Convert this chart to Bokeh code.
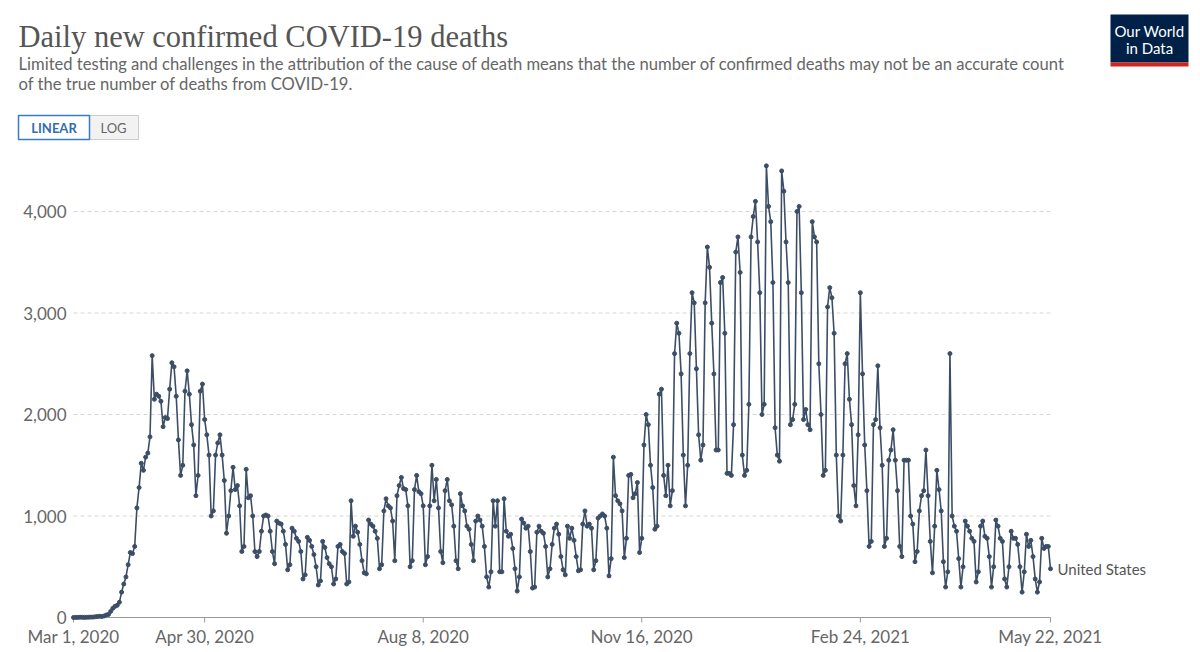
import datetime as dt
from bokeh.plotting import figure
from bokeh.models import Range1d, ColumnDataSource
from bokeh.core.properties import value
from bokeh.embed import file_html
from bokeh.resources import INLINE

start_date = dt.datetime(2020, 3, 1)
weeks = [
    [0, 1, 1, 3, 2, 1, 2],
    [3, 4, 4, 7, 10, 12, 10],
    [15, 25, 30, 60, 90, 110, 120],
    [150, 250, 330, 400, 520, 640, 630],
    [700, 1080, 1280, 1520, 1450, 1580, 1620],
    [1780, 2580, 2150, 2200, 2180, 2130, 1880],
    [1970, 1960, 2250, 2510, 2470, 2180, 1750],
    [1400, 1500, 2230, 2430, 2200, 1900, 1700],
    [1200, 1400, 2230, 2300, 1950, 1800, 1600],
    [1000, 1050, 1600, 1720, 1800, 1600, 1350],
    [830, 1000, 1250, 1480, 1260, 1300, 1100],
    [650, 700, 1460, 1180, 1200, 1000, 650],
    [600, 650, 850, 1000, 1010, 1000, 850],
    [650, 530, 950, 930, 920, 850, 720],
    [470, 520, 880, 850, 780, 750, 650],
    [380, 420, 790, 760, 700, 620, 500],
    [320, 360, 750, 690, 590, 530, 500],
    [330, 380, 700, 720, 650, 630, 330],
    [350, 1150, 800, 900, 840, 720, 560],
    [440, 430, 960, 920, 900, 850, 780],
    [480, 520, 1050, 1170, 1100, 1080, 950],
    [560, 1200, 1300, 1380, 1270, 1260, 1100],
    [500, 560, 1260, 1400, 1240, 1220, 1100],
    [520, 600, 1100, 1500, 1150, 1360, 1080],
    [650, 540, 1250, 1360, 1150, 1110, 900],
    [560, 480, 1220, 1100, 1050, 900, 870],
    [720, 560, 950, 1000, 960, 900, 700],
    [400, 300, 450, 1150, 900, 1150, 450],
    [450, 1170, 850, 800, 820, 680, 480],
    [260, 400, 970, 930, 880, 900, 650],
    [290, 300, 840, 900, 850, 830, 700],
    [400, 480, 720, 880, 920, 820, 600],
    [470, 420, 900, 780, 880, 760, 600],
    [460, 470, 920, 1050, 900, 920, 880],
    [470, 560, 980, 1000, 1020, 1000, 880],
    [410, 580, 1580, 1200, 1150, 1120, 1050],
    [590, 780, 1400, 1410, 1180, 1220, 1330],
    [640, 780, 1700, 2000, 1900, 1500, 1280],
    [870, 900, 2200, 2250, 1400, 1200, 1500],
    [1100, 1250, 2600, 2900, 2800, 2400, 1600],
    [1100, 1500, 2600, 3200, 3100, 2450, 1800],
    [1550, 1700, 3100, 3650, 3450, 2900, 2400],
    [1650, 1650, 3300, 3350, 2800, 1420, 1420],
    [1400, 1900, 3600, 3750, 3400, 1600, 1400],
    [1450, 2100, 3750, 3950, 4100, 3700, 3200],
    [2000, 2100, 4450, 4050, 3900, 3300, 1870],
    [1600, 1540, 4400, 4200, 3700, 3300, 1900],
    [1950, 2100, 4000, 4050, 3200, 1950, 2050],
    [1900, 1850, 3900, 3750, 3700, 2500, 2000],
    [1400, 1450, 3060, 3250, 3150, 2800, 1600],
    [1000, 950, 1600, 2500, 2600, 2150, 1900],
    [1300, 1100, 1800, 3200, 2400, 1700, 1250],
    [700, 750, 1900, 1950, 2480, 1870, 1500],
    [700, 780, 1550, 1650, 1850, 1550, 1250],
    [700, 600, 1550, 1550, 1550, 1000, 920],
    [550, 650, 1050, 1200, 1250, 1650, 1200],
    [750, 440, 900, 1450, 1260, 1050, 550],
    [300, 450, 2600, 1000, 900, 850, 580],
    [300, 500, 950, 900, 850, 780, 750],
    [350, 450, 900, 950, 800, 780, 600],
    [300, 500, 960, 900, 780, 750, 380],
    [300, 500, 850, 780, 780, 720, 500],
    [250, 450, 820, 700, 760, 600, 380],
    [250, 350, 780, 680, 700, 700, 480],
]
deaths = [v for w in weeks for v in w]
dates = [start_date + dt.timedelta(days=i) for i in range(len(deaths))]
tick_dates = [dt.datetime(2020, 3, 1), dt.datetime(2020, 4, 30), dt.datetime(2020, 8, 8),
              dt.datetime(2020, 11, 16), dt.datetime(2021, 2, 24), dt.datetime(2021, 5, 22)]
tick_labels = ["Mar 1, 2020", "Apr 30, 2020", "Aug 8, 2020", "Nov 16, 2020", "Feb 24, 2021", "May 22, 2021"]
y_ticks = [0, 1000, 2000, 3000, 4000]
y_labels = ["0", "1,000", "2,000", "3,000", "4,000"]
series_name = "United States"

def ms(d):
    return (d - dt.datetime(1970, 1, 1)).total_seconds() * 1000

T0 = ms(dates[0])
T1 = ms(dates[-1])
X0P, X1P = 73.0, 1050.0          # pixel of first / last date
Y0P, YPER = 617.0, 101.5 / 1000  # pixel of value 0, px per unit
def px2x(px):
    return T0 + (px - X0P) * (T1 - T0) / (X1P - X0P)
def px2y(py):
    return (Y0P - py) / YPER

W, H = 1200, 652
p = figure(width=W, height=H, output_backend="svg", toolbar_location=None,
           min_border=0, x_range=Range1d(px2x(0), px2x(W)),
           y_range=Range1d(px2y(H), px2y(0)))
p.axis.visible = False
p.grid.visible = False
p.outline_line_color = None

C = "#3c4e66"
GRAY = "#666666"
gy = y_ticks[1:]
p.segment(x0=[T0] * len(gy), x1=[T1] * len(gy), y0=gy, y1=gy, color="#d6d6d6",
          line_dash="4 3", line_width=1)
p.segment(x0=[T0], x1=[T1], y0=[0], y1=[0], color="#999999", line_width=1)
tx = [ms(d) for d in tick_dates]
p.segment(x0=tx, x1=tx, y0=[0] * len(tx), y1=[px2y(Y0P + 5)] * len(tx), color="#999999")
p.text(x=tx, y=[px2y(636)] * len(tx), text=tick_labels, text_font=value("Lato"),
       text_font_size="17px", text_color=GRAY, text_align="center", text_baseline="middle")
p.text(x=[px2x(66)] * len(y_ticks), y=y_ticks, text=y_labels, text_font=value("Lato"),
       text_font_size="17px", text_color=GRAY, text_align="right", text_baseline="middle")

src = ColumnDataSource(dict(x=dates, y=deaths))
p.line("x", "y", source=src, color=C, line_width=1.6)
p.scatter("x", "y", source=src, color=C, size=4)
p.text(x=[T1], y=[deaths[-1]], x_offset=7, text=[series_name], text_font=value("Lato"),
       text_font_size="15px", text_color="#555555", text_baseline="middle")

def txt(px, py, s, **kw):
    p.text(x=[px2x(px)], y=[px2y(py)], text=[s], text_baseline="middle", **kw)

txt(18, 36, "Daily new confirmed COVID-19 deaths", text_font=value("Liberation Serif"),
    text_font_size="30.5px", text_color="#555555")
txt(18, 63, "Limited testing and challenges in the attribution of the cause of death means that the number of confirmed deaths may not be an accurate count",
    text_font=value("Lato"), text_font_size="16.6px", text_color=GRAY)
txt(18, 83, "of the true number of deaths from COVID-19.",
    text_font=value("Lato"), text_font_size="16.6px", text_color=GRAY)

p.quad(left=[px2x(88)], right=[px2x(138)], top=[px2y(115)], bottom=[px2y(139)],
       fill_color="#f2f2f2", line_color="#cccccc")
p.quad(left=[px2x(18)], right=[px2x(89)], top=[px2y(115)], bottom=[px2y(139)],
       fill_color="white", line_color="#3a7bc8", line_width=1.5)
txt(53.5, 127.5, "LINEAR", text_font=value("Lato"), text_font_size="13px", text_color="#2f6db4",
    text_font_style="bold", text_align="center")
txt(113, 127.5, "LOG", text_font=value("Lato"), text_font_size="13px", text_color=GRAY,
    text_align="center")

p.quad(left=[px2x(1110)], right=[px2x(1188)], top=[px2y(14)], bottom=[px2y(62)],
       fill_color="#002147", line_color=None)
p.quad(left=[px2x(1110)], right=[px2x(1188)], top=[px2y(62)], bottom=[px2y(66)],
       fill_color="#ce261e", line_color=None)
txt(1149, 30, "Our World", text_font=value("Lato"), text_font_size="15px",
    text_color="white", text_align="center")
txt(1149, 47, "in Data", text_font=value("Lato"), text_font_size="15px",
    text_color="white", text_align="center")

open("out.html", "w").write(file_html(p, INLINE))
